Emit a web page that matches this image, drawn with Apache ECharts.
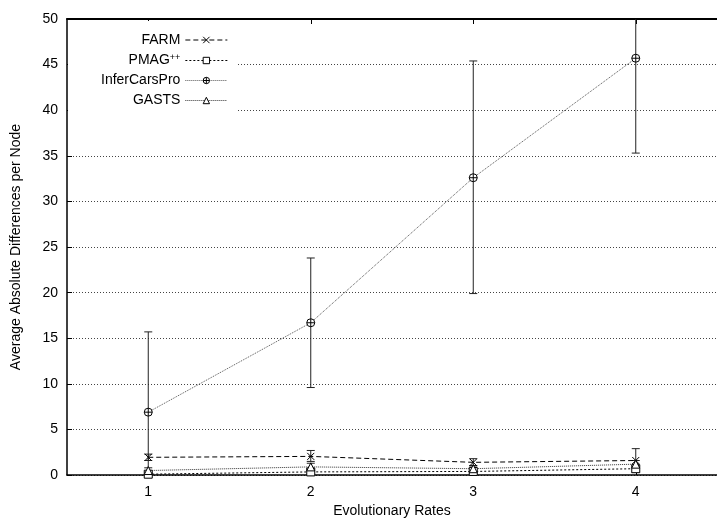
<!DOCTYPE html>
<html><head><meta charset="utf-8">
<script src="https://cdn.jsdelivr.net/npm/echarts@6/dist/echarts.min.js"></script>
<style>html,body{margin:0;padding:0;background:#fff}#c{width:717px;height:523px}</style>
</head><body><div id="c"></div>
<script>
const rates = [1, 2, 3, 4];
const xTicks = [1, 2, 3, 4];
const yTicks = [0, 5, 10, 15, 20, 25, 30, 35, 40, 45, 50];
const seriesNames = ['FARM', 'PMAG++', 'InferCarsPro', 'GASTS'];
const farm = [1.95, 2.05, 1.4, 1.6];
const farmLow = [1.6, 1.5, 1.05, 0.3];
const farmHigh = [2.3, 2.7, 1.8, 2.9];
const pmag = [0.1, 0.35, 0.4, 0.7];
const pmagLow = [0.0, 0.1, 0.15, 0.3];
const pmagHigh = [0.3, 0.6, 0.7, 1.1];
const infer = [6.9, 16.7, 32.6, 45.7];
const inferLow = [-1.9, 9.6, 19.9, 35.3];
const inferHigh = [15.7, 23.8, 45.4, 56.1];
const gasts = [0.5, 0.9, 0.7, 1.2];
const gastsLow = [0.2, 0.5, 0.4, 0.8];
const gastsHigh = [0.8, 1.3, 1.0, 1.6];

const YMIN = 0, YMAX = 50;
const FONT = 'Liberation Sans, Arial, Helvetica, sans-serif';

function pts(vals) { return rates.map((x, i) => [x, vals[i]]); }
function errs(lo, hi) { return rates.map((x, i) => [x, lo[i], hi[i]]); }

function errRender(params, api) {
  const x = api.value(0), lo = api.value(1), hi = api.value(2);
  const loC = Math.max(lo, YMIN), hiC = Math.min(hi, YMAX);
  const p1 = api.coord([x, loC]), p2 = api.coord([x, hiC]);
  const cap = 4;
  const style = { stroke: '#222', lineWidth: 1 };
  const children = [{ type: 'line', shape: { x1: p1[0], y1: p1[1], x2: p2[0], y2: p2[1] }, style }];
  if (lo >= YMIN) children.push({ type: 'line', shape: { x1: p1[0] - cap, y1: p1[1], x2: p1[0] + cap, y2: p1[1] }, style });
  if (hi <= YMAX) children.push({ type: 'line', shape: { x1: p2[0] - cap, y1: p2[1], x2: p2[0] + cap, y2: p2[1] }, style });
  return { type: 'group', children };
}

const symX = 'path://M0,0L10,10M10,0L0,10';
const symCirc = 'path://M5,0A5,5,0,1,1,5,10A5,5,0,1,1,5,0ZM5,0L5,10M0,5L10,5';

function lineSeries(name, vals, symbol, size, color, dash) {
  return {
    name, type: 'line', data: pts(vals), symbol, symbolSize: size,
    showAllSymbol: true, z: 3,
    lineStyle: { color, width: 1, type: dash },
    itemStyle: { color: '#fff', borderColor: '#000', borderWidth: 1 },
    emphasis: { disabled: true }, animation: false
  };
}
function errSeries(lo, hi) {
  return { type: 'custom', data: errs(lo, hi), renderItem: errRender, z: 2, silent: true, animation: false };
}

const chart = echarts.init(document.getElementById('c'), null, { renderer: 'canvas' });
chart.setOption({
  animation: false,
  backgroundColor: '#fff',
  textStyle: { fontFamily: FONT },
  grid: { left: 67, top: 19, bottom: 45, right: -10, containLabel: false },
  graphic: [{ type: 'rect', shape: { x: 68, y: 21, width: 168, height: 96 }, style: { fill: '#fff' }, z: 1 }],
  legend: {
    orient: 'vertical', align: 'right', left: 96, top: 28,
    itemWidth: 42, itemHeight: 8, itemGap: 6,
    data: seriesNames, z: 5,
    itemStyle: { borderWidth: 1 },
    lineStyle: { width: 1 },
    textStyle: { fontFamily: FONT, fontSize: 14, color: '#000',
      rich: { sup: { fontSize: 9, verticalAlign: 'top', padding: [0, 0, 6, 0], fontFamily: FONT, color: '#000' } } },
    formatter: n => n === 'PMAG++' ? 'PMAG{sup|++}' : n
  },
  xAxis: [{
    type: 'value', min: 0.5, max: 4.5, position: 'bottom',
    name: 'Evolutionary Rates', nameLocation: 'middle', nameGap: 24,
    nameTextStyle: { fontSize: 14, color: '#000', fontFamily: FONT },
    axisLine: { lineStyle: { color: '#000', width: 1.5 } },
    axisTick: { inside: true, length: 5, lineStyle: { color: '#000' }, customValues: xTicks },
    axisLabel: { customValues: xTicks, fontSize: 14, color: '#000', margin: 10, fontFamily: FONT },
    splitLine: { show: false }
  }, {
    type: 'value', min: 0.5, max: 4.5, position: 'top',
    axisLine: { lineStyle: { color: '#000', width: 2 } },
    axisTick: { inside: true, length: 5, lineStyle: { color: '#000' }, customValues: xTicks },
    axisLabel: { show: false }, splitLine: { show: false }
  }],
  yAxis: {
    type: 'value', min: YMIN, max: YMAX, interval: 5,
    name: 'Average Absolute Differences per Node', nameLocation: 'middle', nameGap: 44, nameRotate: 90,
    nameTextStyle: { fontSize: 14, color: '#000', fontFamily: FONT },
    axisLine: { show: true, lineStyle: { color: '#000', width: 1.5 } },
    axisTick: { show: true, inside: true, length: 5, lineStyle: { color: '#000' } },
    axisLabel: { fontSize: 14, color: '#000', margin: 9, fontFamily: FONT,
      formatter: v => yTicks.includes(v) ? String(v) : '' },
    splitLine: { show: true, lineStyle: { color: '#444', width: 1, type: [1, 2] } }
  },
  series: [
    lineSeries('FARM', farm, symX, 7, '#000', [5, 3]),
    lineSeries('PMAG++', pmag, 'rect', 8, '#000', [2, 2]),
    lineSeries('InferCarsPro', infer, symCirc, 8, '#555', [1, 1]),
    lineSeries('GASTS', gasts, 'triangle', 8, '#333', [1, 1]),
    errSeries(farmLow, farmHigh),
    errSeries(pmagLow, pmagHigh),
    errSeries(inferLow, inferHigh),
    errSeries(gastsLow, gastsHigh)
  ]
});
</script></body></html>
